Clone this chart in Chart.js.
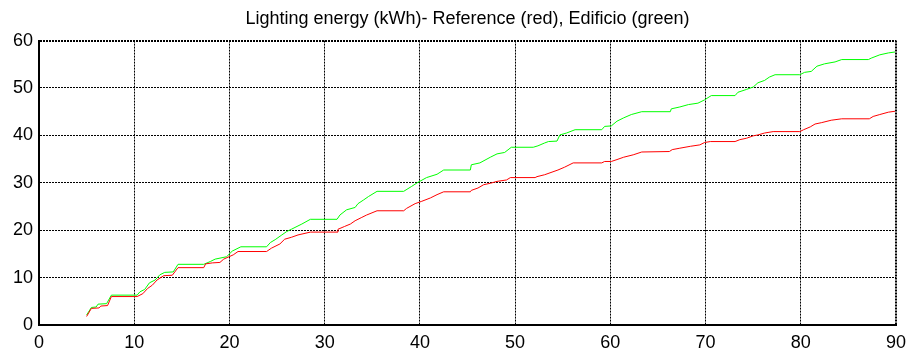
<!DOCTYPE html>
<html>
<head>
<meta charset="utf-8">
<script src="https://cdn.jsdelivr.net/npm/chart.js@4.4.1/dist/chart.umd.min.js"></script>
<style>
  html, body { margin: 0; padding: 0; background: #fff; }
  #wrap { width: 910px; height: 356px; }
</style>
</head>
<body>
<div id="wrap"><canvas id="chart" width="910" height="356"></canvas></div>
<script>
// Reference building (red)
const referenceX = [5.0, 5.5, 6.3, 6.5, 7.2, 7.6, 10.3, 10.9, 11.4, 11.9, 12.4, 13.1, 14.0, 14.6, 17.3, 17.5, 18.2, 19.0, 19.4, 20.4,
  20.9, 23.9, 24.4, 25.3, 25.8, 26.5, 27.2, 28.5, 31.3, 31.4, 32.1, 32.7, 33.2, 33.9, 34.4, 35.5, 38.3, 38.6, 39.5, 40.2,
  41.1, 41.8, 42.5, 45.3, 45.4, 46.1, 46.7, 47.4, 48.1, 49.1, 49.5, 52.1, 52.3, 53.1, 54.5, 55.2, 56.1, 59.1, 59.4, 60.1,
  60.7, 61.4, 62.4, 63.3, 66.2, 66.5, 67.3, 68.4, 69.4, 69.9, 70.5, 73.1, 73.6, 74.3, 75.0, 75.5, 76.2, 77.1, 79.9, 80.3,
  81.0, 81.5, 82.2, 83.2, 84.3, 87.2, 87.6, 88.3, 89.2, 89.9];
const referenceY = [1.8, 3.5, 3.6, 4.0, 4.1, 6.0, 6.0, 6.6, 7.7, 8.4, 9.5, 10.4, 10.5, 12.1, 12.1, 12.9, 13.1, 13.2, 13.9, 14.8,
  15.5, 15.5, 16.2, 17.1, 18.1, 18.5, 19.0, 19.6, 19.6, 20.2, 20.8, 21.3, 22.0, 22.7, 23.2, 24.1, 24.1, 24.6, 25.6, 26.1,
  26.8, 27.5, 28.1, 28.1, 28.4, 28.9, 29.6, 29.9, 30.3, 30.6, 31.1, 31.1, 31.3, 31.7, 32.7, 33.3, 34.2, 34.2, 34.5, 34.5,
  34.9, 35.4, 35.9, 36.5, 36.6, 37.0, 37.3, 37.7, 38.0, 38.5, 38.7, 38.7, 39.1, 39.4, 39.9, 40.1, 40.5, 40.8, 40.8, 41.2,
  41.8, 42.4, 42.7, 43.2, 43.5, 43.5, 44.0, 44.4, 44.9, 45.1];

// Edificio (green)
const edificioX = [5.0, 5.5, 6.0, 6.2, 7.1, 7.6, 10.3, 10.6, 11.1, 11.6, 12.2, 12.7, 13.2, 14.1, 14.6, 17.3, 18.0, 18.5, 19.7, 20.3,
  21.2, 23.9, 24.3, 24.8, 25.5, 26.0, 26.5, 27.6, 28.5, 31.3, 31.6, 32.3, 33.2, 33.5, 34.1, 34.6, 35.5, 38.3, 39.1, 39.8,
  40.7, 41.8, 42.5, 45.3, 45.4, 46.3, 47.4, 48.1, 48.9, 49.6, 51.9, 52.4, 53.1, 53.5, 54.4, 54.7, 55.4, 56.3, 59.1, 59.4,
  60.1, 60.7, 61.4, 62.2, 63.3, 66.3, 66.4, 67.3, 68.2, 69.2, 69.9, 70.6, 73.1, 73.4, 74.3, 75.0, 75.5, 76.2, 76.7, 77.3,
  79.9, 80.4, 81.1, 81.7, 82.5, 83.6, 84.3, 87.1, 87.4, 88.3, 89.2, 89.9];
const edificioY = [2.1, 3.7, 3.8, 4.4, 4.5, 6.3, 6.3, 7.0, 7.5, 8.9, 9.5, 10.6, 11.1, 11.2, 12.8, 12.8, 13.4, 13.9, 14.4, 15.6,
  16.5, 16.5, 17.4, 18.0, 19.0, 19.7, 20.2, 21.3, 22.3, 22.3, 23.2, 24.3, 24.8, 25.6, 26.4, 27.1, 28.2, 28.2, 29.2, 30.1,
  31.1, 31.8, 32.7, 32.7, 33.8, 34.2, 35.4, 36.1, 36.4, 37.5, 37.5, 37.8, 38.4, 38.7, 38.8, 40.1, 40.5, 41.2, 41.2, 41.9,
  42.0, 43.0, 43.7, 44.4, 45.0, 45.0, 45.6, 46.0, 46.5, 46.8, 47.5, 48.4, 48.4, 49.1, 49.7, 50.2, 51.1, 51.6, 52.3, 52.8,
  52.8, 53.3, 53.5, 54.6, 55.1, 55.5, 56.0, 56.0, 56.3, 57.0, 57.4, 57.6];

const xTicks = [0, 10, 20, 30, 40, 50, 60, 70, 80, 90];
const yTicks = [0, 10, 20, 30, 40, 50, 60];

const toPoints = (xs, ys) => xs.map((x, i) => ({ x: x, y: ys[i] }));

const font = '"Liberation Sans", Arial, sans-serif';
const tickFont = { family: font, size: 18 };

// outer frame lines (top/right) drawn a bit heavier, like the original
const gridWidth = (edge) => (ctx) => (ctx.tick && ctx.tick.value === edge ? 2 : 1);

const config = {
    type: 'line',
    data: {
        datasets: [
            {
                label: 'Reference',
                data: toPoints(referenceX, referenceY),
                borderColor: '#ff0000',
                borderWidth: 1,
                pointRadius: 0,
                tension: 0,
            },
            {
                label: 'Edificio',
                data: toPoints(edificioX, edificioY),
                borderColor: '#00ff00',
                borderWidth: 1,
                pointRadius: 0,
                tension: 0,
            },
        ],
    },
    options: {
        responsive: false,
        animation: false,
        layout: { padding: { left: 0, right: 14, top: 0, bottom: 0 } },
        plugins: {
            legend: { display: false },
            tooltip: { enabled: false },
            title: {
                display: true,
                fullSize: false,
                text: 'Lighting energy (kWh)- Reference (red), Edificio (green)',
                color: '#000',
                font: { family: font, size: 18, weight: 'normal', lineHeight: 1.2 },
                padding: { top: 8, bottom: 11 },
            },
        },
        scales: {
            x: {
                type: 'linear',
                min: 0,
                max: 90,
                afterBuildTicks: (scale) => { scale.ticks = xTicks.map(v => ({ value: v })); },
                grid: { color: '#000', lineWidth: gridWidth(90), drawTicks: false },
                border: { display: true, color: '#000', width: 2, dash: [2, 1] },
                ticks: { color: '#000', font: tickFont, padding: 7, maxRotation: 0 },
                afterFit: (scale) => {
                    scale.height = 31;
                    scale.paddingRight = 0;
                    scale.paddingLeft = 0;
                },
            },
            y: {
                min: 0,
                max: 60,
                afterBuildTicks: (scale) => { scale.ticks = yTicks.map(v => ({ value: v })); },
                grid: { color: '#000', lineWidth: gridWidth(60), drawTicks: false },
                border: { display: true, color: '#000', width: 2, dash: [2, 1] },
                ticks: { color: '#000', font: tickFont, padding: 6 },
                afterFit: (scale) => { scale.width = 39; },
            },
        },
    },
};

new Chart(document.getElementById('chart'), config);
</script>
</body>
</html>
